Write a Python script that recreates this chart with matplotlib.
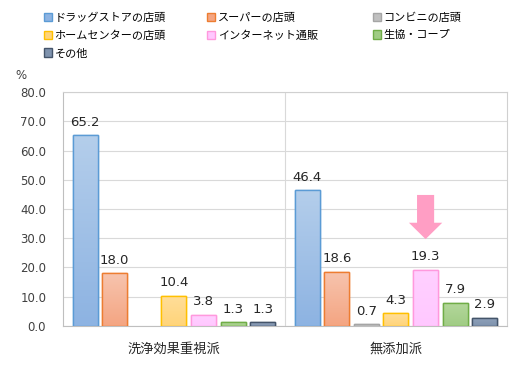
import numpy as np
import matplotlib
matplotlib.use("Agg")
import matplotlib.pyplot as plt
from matplotlib.patches import Rectangle, FancyArrow
from matplotlib.colors import LinearSegmentedColormap

plt.rcParams['font.family'] = ['Noto Sans CJK JP', 'DejaVu Sans']

# --- data ---
groups = ['洗浄効果重視派', '無添加派']
channels = ['ドラッグストアの店頭', 'スーパーの店頭', 'コンビニの店頭',
            'ホームセンターの店頭', 'インターネット通販', '生協・コープ', 'その他']
senjo = [65.2, 18.0, np.nan, 10.4, 3.8, 1.3, 1.3]
mutenka = [46.4, 18.6, 0.7, 4.3, 19.3, 7.9, 2.9]
values = [senjo, mutenka]

# fill top, fill bottom, edge
styles = [
    ('#B4CEEB', '#8DB3E2', '#5B9BD5'),
    ('#F7C4AE', '#F4A582', '#ED7D31'),
    ('#D0D0D0', '#C0C0C0', '#A5A5A5'),
    ('#FFDE9A', '#FFD47A', '#FFC000'),
    ('#FFD0FF', '#FFC8FF', '#FF99DD'),
    ('#B4D79C', '#A0CC84', '#70AD47'),
    ('#90A2BA', '#7F93AE', '#44546A'),
]

fig = plt.figure(figsize=(5.24, 3.78), dpi=100)
ax = fig.add_axes([0.120, 0.1376, 0.8476, 0.619])

slot = 0.1333
width = 0.1126
n = len(channels)
for g, vals in enumerate(values):
    for i, v in enumerate(vals):
        if np.isnan(v):
            continue
        top_c, bot_c, edge_c = styles[i]
        x0 = g + (i - (n - 1) / 2) * slot - width / 2
        rect = Rectangle((x0, 0), width, v, facecolor=bot_c, edgecolor=edge_c,
                         linewidth=1.0, zorder=3)
        ax.add_patch(rect)
        cmap = LinearSegmentedColormap.from_list('g', [bot_c, top_c])
        grad = np.linspace(0, 1, 64).reshape(-1, 1)
        im = ax.imshow(grad, cmap=cmap, origin='lower', aspect='auto',
                       extent=(x0, x0 + width, 0, v), zorder=3.5)
        im.set_clip_path(rect)
        ax.add_patch(Rectangle((x0, 0), width, v, facecolor='none',
                               edgecolor=edge_c, linewidth=1.0, zorder=4))
        ax.text(x0 + width / 2, v + 2.2, f'{v:.1f}', ha='center', va='bottom',
                fontsize=9.5, family='DejaVu Sans', color='#262626', zorder=5)

# highlight arrow over internet sales in 無添加派
ax_x = 1 + (4 - (n - 1) / 2) * slot
ax.add_patch(FancyArrow(ax_x, 44.8, 0, -15.1, width=0.077, head_width=0.15,
                        head_length=5.6, length_includes_head=True,
                        color='#FF9EC4', linewidth=0, zorder=5))

ax.set_xlim(-0.5, 1.5)
ax.set_ylim(0, 80)
ax.set_yticks(np.arange(0, 81, 10))
ax.set_yticklabels([f'{t:.1f}' for t in np.arange(0, 81, 10)],
                   family='DejaVu Sans', fontsize=8.5, color='#404040')
ax.set_xticks([0, 1])
ax.set_xticklabels(groups, fontsize=9.5, color='#262626')
ax.tick_params(axis='x', length=0, pad=12)
ax.tick_params(axis='y', length=0, pad=12)
ax.yaxis.grid(True, color='#D9D9D9', linewidth=0.8, zorder=0)
ax.axvline(0.5, color='#D9D9D9', linewidth=0.8, zorder=0)
for s in ax.spines.values():
    s.set_color('#D0D0D0')
    s.set_linewidth(0.8)
ax.spines['left'].set_color('#BFBFBF')
ax.spines['bottom'].set_color('#BFBFBF')
ax.set_axisbelow(True)

fig.text(0.030, 0.79, '%', fontsize=8.5, family='DejaVu Sans', color='#404040')

# legend: three equally spaced columns, filled row by row
handles = [Rectangle((0, 0), 1, 1, facecolor=s[1], edgecolor=s[2], linewidth=1.0)
           for s in styles]
col_x = [0.084, 0.395, 0.711]
for c, x in enumerate(col_x):
    idx = list(range(c, n, 3))
    leg = fig.legend([handles[k] for k in idx], [channels[k] for k in idx],
                     loc='upper left', bbox_to_anchor=(x, 0.967),
                     frameon=False, fontsize=8, handlelength=0.75,
                     handleheight=0.75, handletextpad=0.2, labelspacing=0.68,
                     borderaxespad=0, borderpad=0)

fig.savefig('out.png', dpi=100)
